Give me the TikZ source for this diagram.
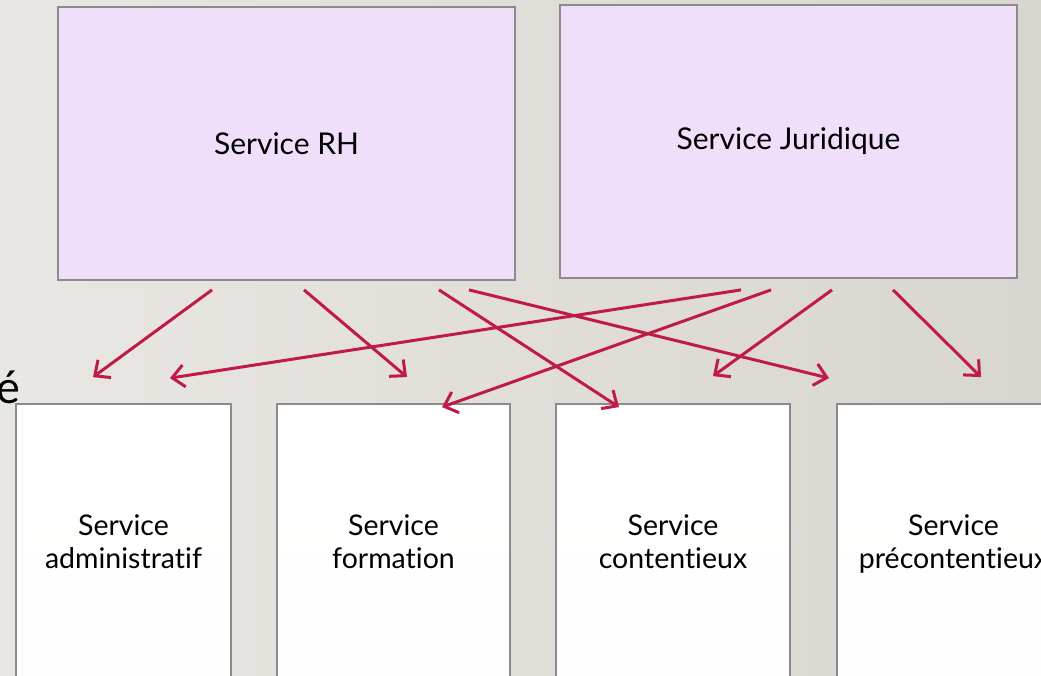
\documentclass[tikz,border=0pt]{standalone}
\usepackage{fontspec}
\setmainfont{Lato}[Ligatures=NoCommon]
\usepackage{xcolor}
\usetikzlibrary{positioning,calc,arrows.meta}

\definecolor{bgleft}{RGB}{233,231,227}
\definecolor{bgright}{RGB}{217,213,208}
\definecolor{lavender}{RGB}{240,223,250}
\definecolor{boxline}{RGB}{140,138,138}
\definecolor{linkred}{RGB}{192,26,70}

\begin{document}
\begin{tikzpicture}[x=1pt,y=-1pt,
    topbox/.style={draw=boxline, line width=1.8pt, fill=lavender,
        minimum width=457pt, minimum height=273pt, inner sep=0pt,
        font=\fontsize{30}{34}\selectfont},
    botbox/.style={draw=boxline, line width=1.8pt, top color=white, bottom color=white!96!bgleft,
        minimum height=280pt, inner sep=0pt, align=center,
        font=\fontsize{28.5}{33}\selectfont},
    link/.style={draw=linkred, line width=3pt, -{Straight Barb[length=12pt,width=22pt]}}]
        \shade[left color=bgleft, right color=bgright] (0,0) rectangle (1041,676);
        \useasboundingbox (0,0) rectangle (1041,676);
        \node[anchor=base east, inner sep=0pt, font=\fontsize{45}{45}\selectfont] (frag) at (20,403) {é};

        % top row
        \node[topbox] (rh) at (286.5,143.5) {Service RH};
        \node[topbox] (jur) at (788.5,141.5) {Service Juridique};

        % bottom row
        \node[botbox, minimum width=215pt] (adm) at (123.5,544) {Service\\administratif\vphantom{p}};
        \node[botbox, minimum width=233pt] (form) at (393.5,544) {Service\\formation\vphantom{p}};
        \node[botbox, minimum width=234pt] (cont) at (673,544) {Service\\contentieux\vphantom{p}};
        \node[botbox, minimum width=233pt] (prec) at (953.5,544) {Service\\précontentieux};

        % links from RH
        \draw[link] ($(rh.south)+(-74.5,9)$) -- ($(adm.north)+(-30.5,-26)$);
        \draw[link] ($(rh.south)+(17.5,9)$) -- ($(form.north)+(13.5,-26)$);
        \draw[link] ($(rh.south)+(152.5,9)$) -- ($(cont.north)+(-54,4)$);
        \draw[link] ($(rh.south)+(182.5,9)$) -- ($(prec.north)+(-124.5,-25)$);

        % links from Juridique
        \draw[link] ($(jur.south)+(-47.5,11)$) -- ($(adm.north)+(46.5,-25)$);
        \draw[link] ($(jur.south)+(-17.5,11)$) -- ($(form.north)+(48.5,4)$);
        \draw[link] ($(jur.south)+(43.5,11)$) -- ($(cont.north)+(40,-27)$);
        \draw[link] ($(jur.south)+(104.5,11)$) -- ($(prec.north)+(27.5,-26)$);
\end{tikzpicture}
\end{document}
